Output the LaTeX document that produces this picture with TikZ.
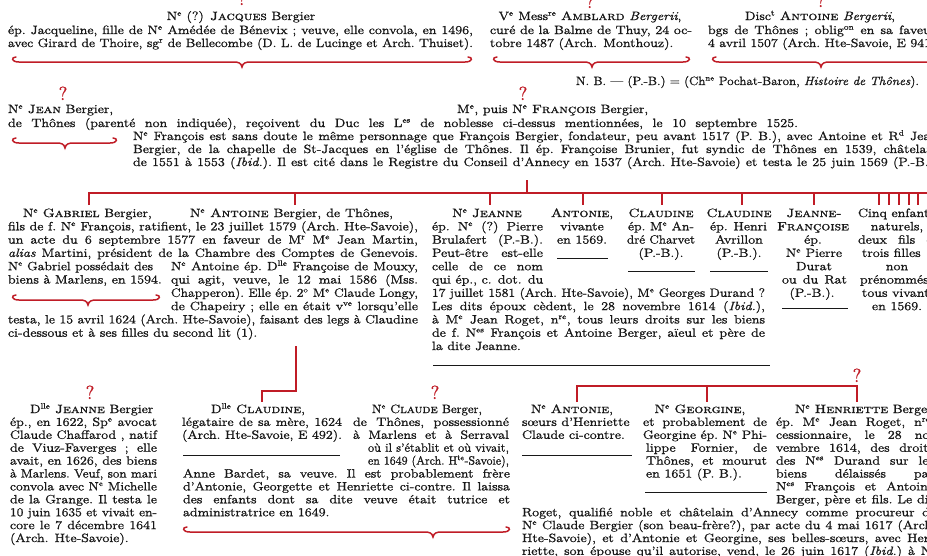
\documentclass[tikz,border=0pt]{standalone}
\usepackage{graphicx}
\definecolor{rubric}{RGB}{192,28,38}
\definecolor{ink}{RGB}{24,24,24}

% Latin Modern, set a touch heavier like an old book face
\DeclareFontFamily{TU}{lmheavy}{}
\DeclareFontShape{TU}{lmheavy}{m}{n}{<-> "[lmroman12-regular]:mapping=tex-text;embolden=1.2"}{}
\DeclareFontShape{TU}{lmheavy}{m}{it}{<-> "[lmroman12-italic]:mapping=tex-text;embolden=1.2"}{}
\DeclareFontShape{TU}{lmheavy}{m}{sc}{<-> "[lmromancaps10-regular]:mapping=tex-text;embolden=1.2"}{}
\renewcommand\rmdefault{lmheavy}

% superscript abbreviations (N^e, M^e, D^lle ...)
\newcommand\supx[1]{\textsuperscript{#1}}

% the book face is wider than Latin Modern: widen every line a little
\newcommand\wide[1]{\scalebox{1.18}[1]{#1}}

% a widened line of text spread (or squeezed) to an exact width
\newsavebox\jbx
\newcommand\jfit[2]{%
  \sbox\jbx{\frenchspacing #2}%
  \ifdim\dimexpr\wd\jbx*118/100\relax>#1pt\relax
    \resizebox{#1pt}{\ht\jbx}{\usebox\jbx}%
  \else
    \scalebox{1.18}[1]{\hbox to \dimexpr #1pt*100/118\relax{\frenchspacing\spaceskip=.3333em plus 1fil minus .1em\relax #2}}%
  \fi}

\newcounter{txtline}
\newcommand\lnJ[4]{\stepcounter{txtline}\node[txt] (t\arabic{txtline}) at (#1,#2) {\jfit{#3}{#4}};}
\newcommand\lnL[3]{\stepcounter{txtline}\node[txt] (t\arabic{txtline}) at (#1,#2) {\wide{#3}};}
\newcommand\lnC[3]{\stepcounter{txtline}\node[txt,anchor=base] (t\arabic{txtline}) at (#1,#2) {\wide{#3}};}

% red curly brace under a block: x1, x2, x of the point, y
\newcommand\hbrace[4]{%
  \draw[brace] (#1+4,#4-5) .. controls (#1-1,#4-5) and (#1-1,#4) .. (#1+7,#4)
    -- (#3-9,#4) .. controls (#3-3,#4) and (#3-1,#4+1) .. (#3,#4+5)
    .. controls (#3+1,#4+1) and (#3+3,#4) .. (#3+9,#4)
    -- (#2-7,#4) .. controls (#2+1,#4) and (#2+1,#4-5) .. (#2-4,#4-5);}

\tikzset{
  txt/.style={anchor=base west, inner sep=0pt, outer sep=0pt, text=ink,
              font=\fontsize{12}{13}\selectfont},
  rline/.style={draw=rubric, line width=1.7pt},
  brace/.style={draw=rubric, line width=1.5pt, line cap=round},
  rule/.style={draw=ink, line width=0.6pt},
  qm/.style={anchor=base, inner sep=0pt, text=rubric, font=\fontsize{19}{19}\selectfont},
}

\begin{document}
\begin{tikzpicture}[x=1pt,y=-1pt]
\fill[white] (0,0) rectangle (927,555);
\useasboundingbox (0,0) rectangle (927,555);
\clip (0,0) rectangle (927,555);

% ---------- first generation ----------
\node[qm] (qa) at (242,5) {?};
\node[qm] (qb) at (590,8) {?};
\node[qm] (qc) at (821,7) {?};

\node[txt,anchor=base] (jacques) at (241,20) {\wide{N\supx{e} (?) \textsc{Jacques} Bergier}};
\lnJ{8}{34}{465}{ép. Jacqueline, fille de N\supx{e} Amédée de Bénevix ; veuve, elle convola, en 1496,}
\lnJ{8}{47}{465}{avec Girard de Thoire, sg\supx{r} de Bellecombe (D. L. de Lucinge et Arch. Thuiset).}
\hbrace{12}{472}{242}{62}

\node[txt,anchor=base] (amblard) at (590,20) {\wide{V\supx{e} Mess\supx{re} \textsc{Amblard} \textit{Bergerii},}};
\lnJ{490}{34}{202}{curé de la Balme de Thuy, 24 oc-}
\lnL{490}{47}{tobre 1487 (Arch. Monthouz).}
\hbrace{493}{690}{592}{62}

\node[txt,anchor=base] (antoineB) at (820,20) {\wide{Disc\supx{t} \textsc{Antoine} \textit{Bergerii},}};
\lnJ{708}{34}{232}{bgs de Thônes ; oblig\supx{on} en sa faveur,}
\lnJ{708}{47}{232}{4 avril 1507 (Arch. Hte-Savoie, E 941).}
\hbrace{712}{945}{821}{62}

\lnJ{576}{85}{343}{N. B. — (P.-B.) = (Ch\supx{ne} Pochat-Baron, \textit{Histoire de Thônes}).}

% ---------- Jean and François ----------
\node[qm] (qj) at (63,100) {?};
\node[qm] (qf) at (523,100) {?};
\node[txt] (jean) at (8,113) {\wide{N\supx{e} \textsc{Jean} Bergier,}};
\node[txt] (francois) at (457,113) {\wide{M\supx{e}, puis N\supx{e} \textsc{François} Bergier,}};
\lnJ{8}{127}{790}{de Thônes (parenté non indiquée), reçoivent du Duc les L\supx{es} de noblesse ci-dessus mentionnées, le 10 septembre 1525.}
\hbrace{12}{117}{65}{143}
\lnJ{133}{140}{805}{N\supx{e} François est sans doute le même personnage que François Bergier, fondateur, peu avant 1517 (P. B.), avec Antoine et R\supx{d} Jean}
\lnJ{133}{153}{805}{Bergier, de la chapelle de St-Jacques en l'église de Thônes. Il ép. Françoise Brunier, fut syndic de Thônes en 1539, châtelain}
\lnJ{133}{166}{805}{de 1551 à 1553 (\textit{Ibid.}). Il est cité dans le Registre du Conseil d'Annecy en 1537 (Arch. Hte-Savoie) et testa le 25 juin 1569 (P.-B.).}

% ---------- tree of François's children ----------
\coordinate (fr) at (527,180);
\coordinate (fj) at (527,193);
\coordinate (tl) at (89,193);
\coordinate (tr) at (935,193);
\coordinate (tlb) at (89,205);
\draw[rline] (fr) -- (fj);
\draw[rline] (tlb) -- (tl) -- (tr);
\foreach \x [count=\i] in {295,490,583,662,742,814,879,889,899,909,918}{
  \coordinate (ka\i) at (\x,193);
  \coordinate (kb\i) at (\x,205);
  \draw[rline] (ka\i) -- (kb\i);
}

% Gabriel and Antoine
\node[txt] (gabriel) at (23,217) {\wide{N\supx{e} \textsc{Gabriel} Bergier,}};
\node[txt] (antoine) at (190,217) {\jfit{203}{N\supx{e} \textsc{Antoine} Bergier, de Thônes,}};
\lnJ{8}{230.3}{410}{fils de f. N\supx{e} François, ratifient, le 23 juillet 1579 (Arch. Hte-Savoie),}
\lnJ{8}{243.6}{410}{un acte du 6 septembre 1577 en faveur de M\supx{r} M\supx{e} Jean Martin,}
\lnJ{8}{256.9}{410}{\textit{alias} Martini, président de la Chambre des Comptes de Genevois.}
\lnJ{8}{270.2}{145}{N\supx{e} Gabriel possédait des}
\lnL{8}{283.5}{biens à Marlens, en 1594.}
\lnJ{171}{270.2}{247}{N\supx{e} Antoine ép. D\supx{lle} Françoise de Mouxy,}
\lnJ{171}{283.5}{247}{qui agit, veuve, le 12 mai 1586 (Mss.}
\lnJ{171}{296.8}{247}{Chapperon). Elle ép. 2\supx{o} M\supx{e} Claude Longy,}
\lnJ{171}{310.1}{247}{de Chapeiry ; elle en était v\supx{ve} lorsqu'elle}
\lnJ{8}{323.4}{410}{testa, le 15 avril 1624 (Arch. Hte-Savoie), faisant des legs à Claudine}
\lnL{8}{336.7}{ci-dessous et à ses filles du second lit (1).}
\hbrace{12}{160}{88}{300}

% Jeanne
\node[txt,anchor=base] (jeanne) at (487,217) {\wide{N\supx{e} \textsc{Jeanne}}};
\lnJ{432}{230.3}{111}{ép. N\supx{e} (?) Pierre}
\lnJ{432}{243.6}{111}{Brulafert (P.-B.).}
\lnJ{432}{256.9}{111}{Peut-être est-elle}
\lnJ{432}{270.2}{111}{celle de ce nom}
\lnL{432}{283.5}{qui ép., c. dot. du}
\lnJ{432}{296.8}{333}{17 juillet 1581 (Arch. Hte-Savoie), M\supx{e} Georges Durand ?}
\lnJ{432}{310.1}{333}{Les dits époux cèdent, le 28 novembre 1614 (\textit{Ibid.}),}
\lnJ{432}{323.4}{333}{à M\supx{e} Jean Roget, n\supx{re}, tous leurs droits sur les biens}
\lnJ{432}{336.7}{333}{de f. N\supx{es} François et Antoine Berger, aïeul et père de}
\lnL{432}{350}{la dite Jeanne.}
\draw[rule] (433,365) -- (770,365);

% Antonie
\node[txt,anchor=base] (antonie) at (582,217) {\wide{\textsc{Antonie},}};
\lnC{582}{230.3}{vivante}
\lnC{582}{243.6}{en 1569.}
\draw[rule] (557,258) -- (608,258);

% the two Claudines
\node[txt,anchor=base] (claudineA) at (661,217) {\wide{\textsc{Claudine}}};
\lnJ{628}{230.3}{66}{ép. M\supx{e} An-}
\lnJ{627}{243.6}{68}{dré Charvet}
\lnC{661}{256.9}{(P.-B.).}
\draw[rule] (628,271) -- (695,271);

\node[txt,anchor=base] (claudineB) at (739,217) {\wide{\textsc{Claudine}}};
\lnJ{710}{230.3}{57}{ép. Henri}
\lnC{739}{243.6}{Avrillon}
\lnC{739}{256.9}{(P.-B.).}
\draw[rule] (710,271) -- (768,271);

% Jeanne-Françoise
\node[txt,anchor=base] (jeannefr) at (814,217) {\wide{\textsc{Jeanne-}}};
\lnC{813}{230.3}{\textsc{Françoise}}
\lnC{813}{243.6}{ép.}
\lnC{814}{256.9}{N\supx{e} Pierre}
\lnC{814}{270.2}{Durat}
\lnJ{782}{283.5}{65}{ou du Rat}
\lnC{812}{296.8}{(P.-B.).}
\draw[rule] (782,308) -- (848,308);

% the natural children
\node[txt] (cinq) at (858,217) {\wide{Cinq enfants}};
\lnC{897}{230.3}{naturels,}
\lnJ{858}{243.6}{80}{deux fils et}
\lnL{862}{256.9}{trois filles}
\lnC{897}{270.2}{non}
\lnL{860}{283.5}{prénommés,}
\lnL{862}{296.8}{tous vivants}
\lnC{897}{310.1}{en 1569.}

% ---------- next generation ----------
\node[qm] (qjd) at (90,399) {?};
\node[qm] (qcl) at (435,399) {?};
\node[qm] (qhe) at (857,382) {?};

\coordinate (c1) at (296,346);
\coordinate (c2) at (296,391);
\coordinate (c3) at (262,391);
\coordinate (c4) at (262,402);
\draw[rline] (c1) -- (c2) -- (c3) -- (c4);

\coordinate (d1) at (577,402);
\coordinate (d2) at (577,386);
\coordinate (d3) at (857,386);
\coordinate (d4) at (857,402);
\coordinate (g1) at (707,386);
\coordinate (g2) at (707,402);
\draw[rline] (d1) -- (d2) -- (d3) -- (d4);
\draw[rline] (g1) -- (g2);

% Jeanne Bergier
\node[txt] (jeanneD) at (30,413) {\wide{D\supx{lle} \textsc{Jeanne} Bergier}};
\lnJ{10}{425.9}{147}{ép., en 1622, Sp\supx{e} avocat}
\lnJ{10}{438.8}{147}{Claude Chaffarod , natif}
\lnJ{10}{451.7}{147}{de Viuz-Faverges ; elle}
\lnJ{10}{464.6}{147}{avait, en 1626, des biens}
\lnJ{10}{477.5}{147}{à Marlens. Veuf, son mari}
\lnJ{10}{490.4}{147}{convola avec N\supx{e} Michelle}
\lnJ{10}{503.3}{147}{de la Grange. Il testa le}
\lnJ{10}{516.2}{147}{10 juin 1635 et vivait en-}
\lnJ{10}{529.1}{147}{core le 7 décembre 1641}
\lnL{10}{542}{(Arch. Hte-Savoie).}

% Claudine
\node[txt,anchor=base] (claudineD) at (258,413) {\wide{D\supx{lle} \textsc{Claudine},}};
\lnJ{182}{425.9}{160}{légataire de sa mère, 1624}
\lnJ{182}{438.8}{160}{(Arch. Hte-Savoie, E 492).}
\draw[rule] (183,455) -- (340,455);

% Claude Berger
\node[txt] (claude) at (372,413) {\jfit{110}{N\supx{e} \textsc{Claude} Berger,}};
\lnJ{353}{425.9}{156}{de Thônes, possessionné}
\lnJ{353}{438.8}{156}{à Marlens et à Serraval}
\lnJ{368}{451.7}{141}{où il s'établit et où vivait,}
\lnJ{368}{464.6}{141}{en 1649 (Arch. H\supx{te}-Savoie),}
\lnJ{183}{477.5}{327}{Anne Bardet, sa veuve. Il est probablement frère}
\lnJ{183}{490.4}{327}{d'Antonie, Georgette et Henriette ci-contre. Il laissa}
\lnJ{183}{503.3}{327}{des enfants dont sa dite veuve était tutrice et}
\lnL{183}{516.2}{administratrice en 1649.}
\hbrace{183}{510}{433}{532}

% Antonie and Georgine
\node[txt,anchor=base] (antonieD) at (572,413) {\wide{N\supx{e} \textsc{Antonie},}};
\lnL{522}{425.9}{sœurs d'Henriette}
\lnL{522}{438.8}{Claude ci-contre.}
\draw[rule] (522,455) -- (632,455);

\node[txt,anchor=base] (georgine) at (700,413) {\wide{N\supx{e} \textsc{Georgine},}};
\lnJ{643}{425.9}{124}{et probablement de}
\lnJ{643}{438.8}{124}{Georgine ép. N\supx{e} Phi-}
\lnJ{646}{451.7}{121}{lippe Fornier, de}
\lnJ{646}{464.6}{121}{Thônes, et mourut}
\lnL{646}{477.5}{en 1651 (P. B.).}
\draw[rule] (645,492) -- (767,492);

% Henriette
\node[txt] (henriette) at (795,413) {\wide{N\supx{e} \textsc{Henriette} Berger,}};
\lnJ{776}{425.9}{158}{ép. M\supx{e} Jean Roget, n\supx{re},}
\lnJ{776}{438.8}{158}{cessionnaire, le 28 no-}
\lnJ{776}{451.7}{158}{vembre 1614, des droits}
\lnJ{776}{464.6}{158}{des N\supx{es} Durand sur les}
\lnJ{776}{477.5}{158}{biens délaissés par}
\lnJ{776}{490.4}{158}{N\supx{es} François et Antoine}
\lnJ{776}{503.3}{158}{Berger, père et fils. Le dit}
\lnJ{522}{516.2}{414}{Roget, qualifié noble et châtelain d'Annecy comme procureur de}
\lnJ{522}{529.1}{414}{N\supx{e} Claude Bergier (son beau-frère?), par acte du 4 mai 1617 (Arch.}
\lnJ{522}{542}{414}{Hte-Savoie), et d'Antonie et Georgine, ses belles-sœurs, avec Hen-}
\lnJ{522}{554.9}{414}{riette, son épouse qu'il autorise, vend, le 26 juin 1617 (\textit{Ibid.}) à N\supx{e}}
\end{tikzpicture}
\end{document}
